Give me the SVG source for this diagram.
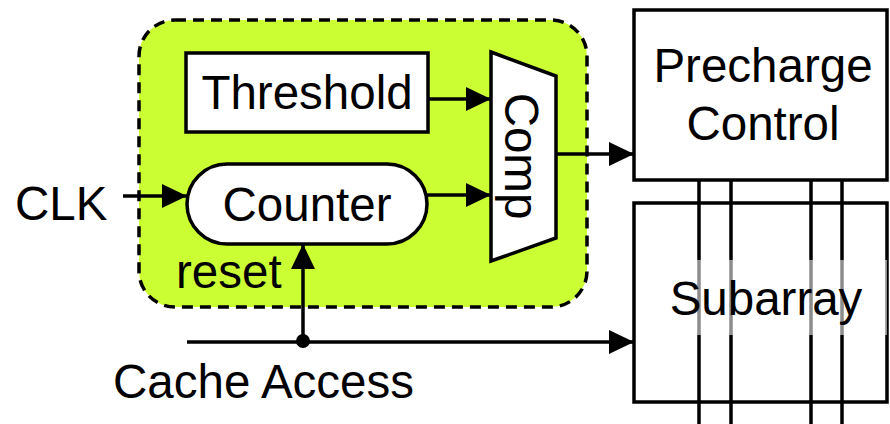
<svg xmlns="http://www.w3.org/2000/svg" width="890" height="424" viewBox="0 0 890 424">
<style>
  .t{font-family:"Liberation Sans",Arial,sans-serif;font-size:47.5px;fill:#000}
  .box{fill:#fff;stroke:#000;stroke-width:3.5}
  .ln{stroke:#000;stroke-width:3.5;fill:none}
</style>
<defs>
  <marker id="ah" viewBox="0 0 25 24" refX="25" refY="12" markerWidth="25" markerHeight="24" markerUnits="userSpaceOnUse" orient="auto">
    <path d="M0,0 L25,12 L0,24 Z" fill="#000"/>
  </marker>
</defs>
<rect width="890" height="424" fill="#fff"/>
<g id="group-box">
  <rect x="139" y="20" width="448" height="287" rx="36" ry="36" fill="#ccff33" stroke="#000" stroke-width="3.5" stroke-dasharray="11 7"/>
</g>
<g id="threshold">
  <rect class="box" x="186" y="53" width="242" height="79"/>
  <text class="t" x="307" y="109" text-anchor="middle">Threshold</text>
</g>
<g id="counter">
  <rect class="box" x="187" y="164" width="240" height="80" rx="40" ry="40"/>
  <text class="t" x="307" y="221" text-anchor="middle">Counter</text>
</g>
<g id="comp">
  <path class="box" d="M491,52 L556,76 L556,238 L491,261 Z"/>
  <text class="t" transform="translate(505,156) rotate(90)" text-anchor="middle">Comp</text>
</g>
<g id="precharge">
  <rect class="box" x="634" y="10" width="253" height="170"/>
  <text class="t" x="763" y="82" text-anchor="middle">Precharge</text>
  <text class="t" x="763" y="140" text-anchor="middle">Control</text>
</g>
<g id="subarray">
  <rect class="box" x="634" y="203" width="253" height="199"/>
</g>
<g id="connectors">
  <line class="ln" x1="699" y1="180" x2="699" y2="424"/>
  <line class="ln" x1="731" y1="180" x2="731" y2="424"/>
  <line class="ln" x1="811" y1="180" x2="811" y2="424"/>
  <line class="ln" x1="842" y1="180" x2="842" y2="424"/>
  <line class="ln" x1="123" y1="196" x2="187" y2="196" marker-end="url(#ah)"/>
  <line class="ln" x1="428" y1="99" x2="491" y2="99" marker-end="url(#ah)"/>
  <line class="ln" x1="427" y1="195" x2="491" y2="195" marker-end="url(#ah)"/>
  <line class="ln" x1="556" y1="154" x2="634" y2="154" marker-end="url(#ah)"/>
  <line class="ln" x1="187" y1="342" x2="634" y2="342" marker-end="url(#ah)"/>
  <line class="ln" x1="303" y1="342" x2="303" y2="244" marker-end="url(#ah)"/>
  <circle cx="303" cy="341" r="7" fill="#000"/>
</g>
<g id="subarray-label">
  <rect x="651" y="260" width="236" height="75" fill="#fff" fill-opacity="0.55"/>
  <text class="t" x="766" y="315" text-anchor="middle">Subarray</text>
</g>
<g id="labels">
  <text class="t" x="15" y="220">CLK</text>
  <text class="t" x="176" y="288">reset</text>
  <text class="t" x="113" y="398">Cache Access</text>
</g>
</svg>
